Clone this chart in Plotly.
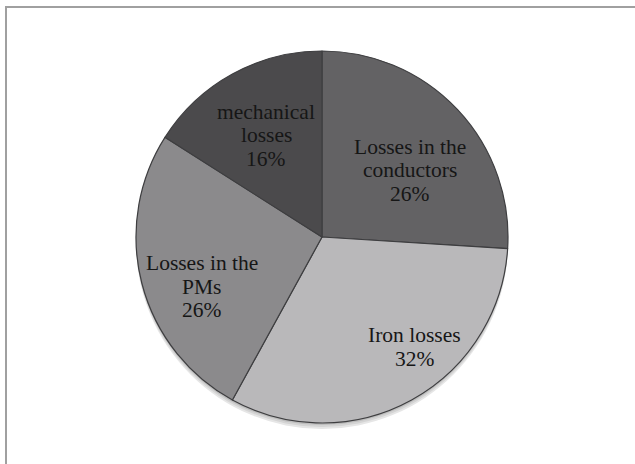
import math
import plotly.graph_objects as go

# Loss breakdown of the machine (percent of total losses)
categories = ["Losses in the conductors", "Iron losses", "Losses in the PMs", "mechanical losses"]
label_lines = [["Losses in the", "conductors"], ["Iron losses"], ["Losses in the", "PMs"], ["mechanical", "losses"]]
values = [26, 32, 26, 16]

colors = ["#636264", "#b9b8ba", "#8b8a8c", "#4b4a4c"]

W, H = 635, 464
cx, cy, R = 322, 237, 186  # pie centre and radius in pixels

# label placement: angle (deg, clockwise from top) and distance from centre (px)
label_place = [(52.7, 110), (139.8, 144), (247.4, 130), (331.2, 116)]
line_gap = 23.5   # px between text lines
font_size = 21.5

dom_x = [(cx - R) / W, (cx + R) / W]
dom_y = [1 - (cy + R) / H, 1 - (cy - R) / H]

fig = go.Figure()

# soft drop shadow beneath the pie
for off, col in [(6, "#e6e6e6"), (4, "#d4d4d4"), (2, "#bdbdbd")]:
    fig.add_trace(go.Pie(
        values=[1], labels=["shadow"], marker=dict(colors=[col], line=dict(width=0)),
        domain=dict(x=dom_x, y=[dom_y[0] - off / H, dom_y[1] - off / H]),
        textinfo="none", hoverinfo="skip", showlegend=False, sort=False,
    ))

fig.add_trace(go.Pie(
    labels=categories,
    values=values,
    sort=False,
    direction="clockwise",
    rotation=0,
    marker=dict(colors=colors, line=dict(color="#3e3e40", width=1.2)),
    textinfo="none",
    domain=dict(x=dom_x, y=dom_y),
    showlegend=False,
))

total = sum(values)
annotations = []
for lines, v, (ang, rad) in zip(label_lines, values, label_place):
    a = math.radians(ang)
    px = cx + rad * math.sin(a)
    py = cy - rad * math.cos(a)
    pct = round(100 * v / total)
    rows = lines + [f"{pct}%"]
    top = py - line_gap * (len(rows) - 1) / 2
    for i, row in enumerate(rows):
        annotations.append(dict(
            x=px / W, y=1 - (top + i * line_gap) / H, xref="paper", yref="paper",
            text=row, showarrow=False,
            font=dict(family="Liberation Serif", size=font_size, color="#161616"),
            align="center", xanchor="center", yanchor="middle",
        ))

fig.update_layout(
    width=W, height=H,
    margin=dict(l=0, r=0, t=0, b=0),
    paper_bgcolor="white",
    plot_bgcolor="white",
    annotations=annotations,
    shapes=[dict(
        type="rect", xref="paper", yref="paper",
        x0=6 / W, x1=1.05, y0=-0.05, y1=1 - 7 / H,
        line=dict(color="#a0a0a0", width=2),
    )],
)

fig.write_html("out.html")
